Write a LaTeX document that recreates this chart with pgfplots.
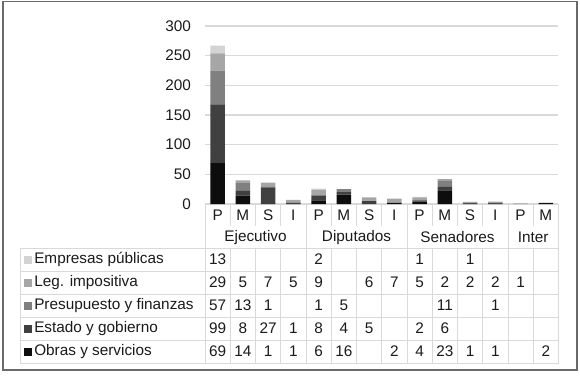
\documentclass[border=0pt]{standalone}
\usepackage{pgfplots}
\usepackage{pgfplotstable}
\pgfplotsset{compat=1.18}
\usepackage{fontspec}
\setmainfont{Liberation Sans}

\definecolor{cObras}{HTML}{0D0D0D}
\definecolor{cEstado}{HTML}{404040}
\definecolor{cPres}{HTML}{808080}
\definecolor{cLeg}{HTML}{A6A6A6}
\definecolor{cEmp}{HTML}{D3D3D3}
\definecolor{gridc}{HTML}{D9D9D9}
\definecolor{framec}{HTML}{6A6A6A}
\definecolor{txt}{HTML}{1A1A1A}

\pgfplotstableread{
x obras estado pres leg emp
0 69 99 57 29 13
1 14 8 13 5 0
2 1 27 1 7 0
3 1 1 0 5 0
4 6 8 1 9 2
5 16 4 5 0 0
6 0 5 0 6 0
7 2 0 0 7 0
8 4 2 0 5 1
9 23 6 11 2 0
10 1 0 0 2 1
11 1 0 1 2 0
12 0 0 0 1 0
13 2 0 0 0 0
}\datatable

\begin{document}
\begin{tikzpicture}[font=\fontsize{11.5}{13}\selectfont, text=txt]
\begin{scope}[x=0.75pt,y=-0.75pt]
  \path (0,0) rectangle (580,378);
  \draw[framec, line width=1.1pt] (3,1.5) rectangle (577,370);
\end{scope}

\begin{axis}[
  at={(153.75pt,-153pt)}, anchor=south west,
  scale only axis, width=265.1pt, height=133.5pt,
  xmin=-0.5, xmax=13.5, ymin=0, ymax=300,
  ytick={0,50,...,300},
  ymajorgrids, grid style={gridc, line width=0.9pt},
  axis line style={draw=none}, major tick length=0pt,
  xtick={0,...,13},
  xticklabels={P,M,S,I,P,M,S,I,P,M,S,I,P,M},
  xticklabel style={yshift=-1pt, text=txt},
  yticklabel style={xshift=-7pt, text=txt},
  /pgf/number format/assume math mode=true,
  ybar stacked, bar width=10.9pt,
  clip=false,
]
\addplot[fill=cObras, draw=none] table[x=x, y=obras] {\datatable};
\addplot[fill=cEstado, draw=none] table[x=x, y=estado] {\datatable};
\addplot[fill=cPres, draw=none] table[x=x, y=pres] {\datatable};
\addplot[fill=cLeg, draw=none] table[x=x, y=leg] {\datatable};
\addplot[fill=cEmp, draw=none] table[x=x, y=emp] {\datatable};
\end{axis}

\begin{scope}[x=0.75pt,y=-0.75pt]
  % tick-row dividers
  \foreach \k in {0,...,14} {
    \draw[gridc, line width=0.75pt] ({205+25.25*\k},204) -- ({205+25.25*\k},226);
  }
  % group dividers
  \foreach \k in {0,4,8,12,14} {
    \draw[gridc, line width=0.75pt] ({205+25.25*\k},204) -- ({205+25.25*\k},248);
  }
  % group labels
  \node at (255.5,237.5) {Ejecutivo};
  \node at (356.5,237.5) {Diputados};
  \node at (457.5,237.5) {Senadores};
  \node at (533.25,237.5) {Inter};
  % table horizontal lines
  \foreach \yy in {248,271,294,317,340,363} {
    \draw[gridc, line width=0.75pt] (20,\yy) -- (558.5,\yy);
  }
  % table vertical lines
  \draw[gridc, line width=0.75pt] (20,248) -- (20,363);
  \foreach \k in {0,...,14} {
    \draw[gridc, line width=0.75pt] ({205+25.25*\k},248) -- ({205+25.25*\k},363);
  }
  % row labels with legend keys
  \foreach \lab/\col [count=\r from 0] in {Empresas públicas/cEmp, Leg. impositiva/cLeg, Presupuesto y finanzas/cPres, Estado y gobierno/cEstado, Obras y servicios/cObras} {
    \fill[\col] (23.5,{259.5+23*\r-4}) rectangle (31.5,{259.5+23*\r+4});
    \node[anchor=west, inner sep=0pt] at (34,{259.5+23*\r}) {\lab};
  }
  % values
  \foreach \v [count=\i from 0] in {13,{},{},{},2,{},{},{},1,{},1,{},{},{}} {
    \node at ({217.6+25.25*\i},259.5) {\v};
  }
  \foreach \v [count=\i from 0] in {29,5,7,5,9,{},6,7,5,2,2,2,1,{}} {
    \node at ({217.6+25.25*\i},282.5) {\v};
  }
  \foreach \v [count=\i from 0] in {57,13,1,{},1,5,{},{},{},11,{},1,{},{}} {
    \node at ({217.6+25.25*\i},305.5) {\v};
  }
  \foreach \v [count=\i from 0] in {99,8,27,1,8,4,5,{},2,6,{},{},{},{}} {
    \node at ({217.6+25.25*\i},328.5) {\v};
  }
  \foreach \v [count=\i from 0] in {69,14,1,1,6,16,{},2,4,23,1,1,{},2} {
    \node at ({217.6+25.25*\i},351.5) {\v};
  }
\end{scope}
\end{tikzpicture}
\end{document}
